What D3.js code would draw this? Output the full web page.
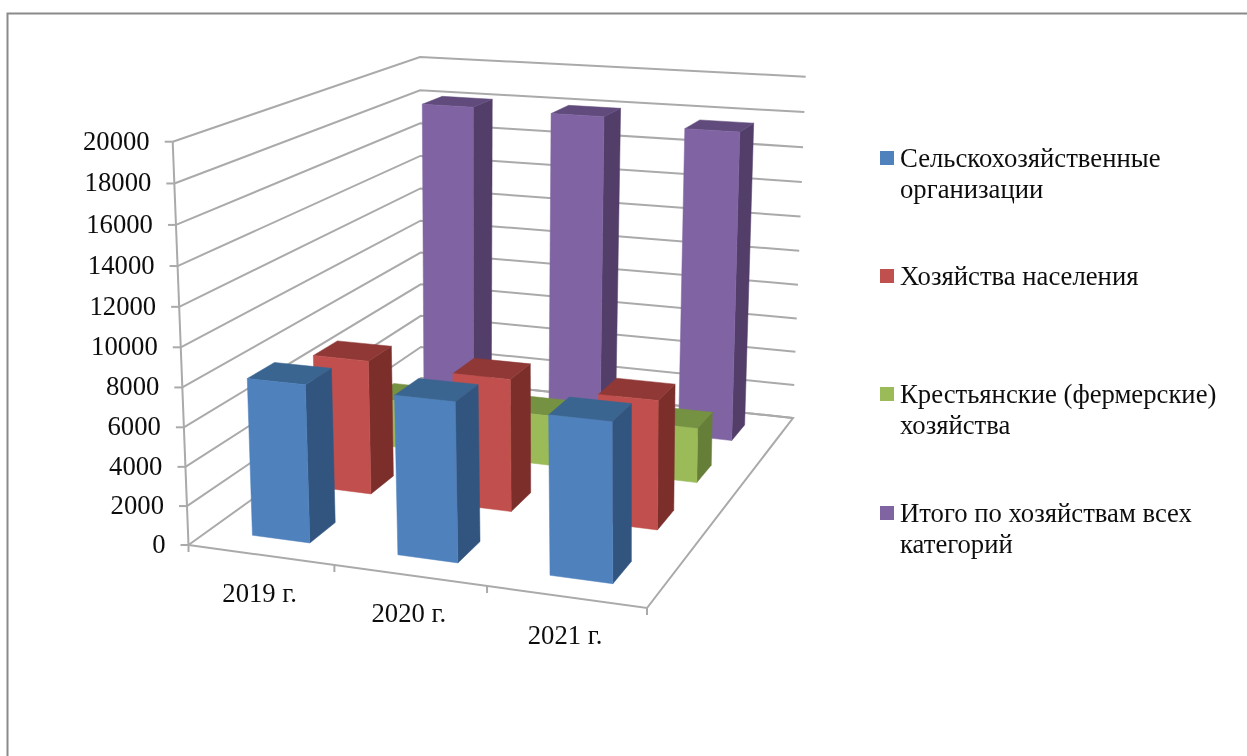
<!DOCTYPE html>
<html><head><meta charset="utf-8">
<script src="https://cdn.jsdelivr.net/npm/d3@7"></script>
<style>html,body{margin:0;padding:0;background:#fff;overflow:hidden}svg{display:block}
text{font-family:"Liberation Serif","Times New Roman",serif;fill:#111}</style>
</head><body><svg id="c" width="1247" height="756"></svg>
<script>
const years = ["2019 г.", "2020 г.", "2021 г."];
const seriesNames = ["Сельскохозяйственные\nорганизации", "Хозяйства населения", "Крестьянские (фермерские)\nхозяйства", "Итого по хозяйствам всех\nкатегорий"];
const agri = [8050, 8000, 7850];
const households = [7200, 7000, 6700];
const farmers = [2700, 2800, 3000];
const total = [18100, 18000, 17600];
const seriesValues = [agri, households, farmers, total];
const yTicks = [0,2000,4000,6000,8000,10000,12000,14000,16000,18000,20000];
const palette = [
 {front:"#4F81BD", side:"#315580", top:"#3A6591"},
 {front:"#C0504D", side:"#7B2E2C", top:"#8F3836"},
 {front:"#9BBB59", side:"#667F37", top:"#759142"},
 {front:"#8064A2", side:"#523E69", top:"#614C7C"}];

// projected frame of the 3D box
const floorQuad = [[188.5,545],[647,608],[793,418],[421,378]]; // front-left, front-right, back-right, back-left
const topQuad   = [[172.7,141.7],[646,173],[805.7,76.7],[420,57]];
function quadMap(q){ // unit square -> quad
  const [[x0,y0],[x1,y1],[x2,y2],[x3,y3]] = q;
  const dx1=x1-x2, dx2=x3-x2, sx=x0-x1+x2-x3, dy1=y1-y2, dy2=y3-y2, sy=y0-y1+y2-y3;
  const den=dx1*dy2-dx2*dy1;
  const g=(sx*dy2-dx2*sy)/den, h=(dx1*sy-sx*dy1)/den;
  const a=x1-x0+g*x1, b=x3-x0+h*x3, c=x0, d=y1-y0+g*y1, e=y3-y0+h*y3, f=y0;
  return (u,v)=>{const w=g*u+h*v+1; return [(a*u+b*v+c)/w,(d*u+e*v+f)/w];};
}
const floorMap=quadMap(floorQuad), topMap=quadMap(topQuad);
const yScale=d3.scaleLinear().domain([0,20000]).range([0,1]);
const K=1.04;
function project(u,v,val){
  const h=yScale(val), t=h/(h+K*(1-h));
  const p=floorMap(u,v), q=topMap(u,v);
  return [p[0]+(q[0]-p[0])*t, p[1]+(q[1]-p[1])*t];
}
const xBand=d3.scaleBand().domain(d3.range(years.length)).range([0,1]).paddingInner(.6).paddingOuter(.3);
const zBand=d3.scaleBand().domain(d3.range(seriesNames.length)).range([0,1]).paddingInner(.6).paddingOuter(.3);

const svg=d3.select("#c");
const defs=svg.append("defs");
defs.append("filter").attr("id","soft").attr("filterUnits","userSpaceOnUse").attr("x",0).attr("y",0).attr("width",1247).attr("height",756)
  .append("feGaussianBlur").attr("stdDeviation",0.7);
defs.append("filter").attr("id","softText").attr("filterUnits","userSpaceOnUse").attr("x",0).attr("y",0).attr("width",1247).attr("height",756)
  .append("feGaussianBlur").attr("stdDeviation",0.4);

// outer frame
svg.append("path").attr("d",d3.line()([[7.5,760],[7.5,13.5],[1250,13.5]])).attr("fill","none").attr("stroke","#8a8a8a").attr("stroke-width",2);

const chart=svg.append("g").attr("filter","url(#soft)");
const line=d3.line();
const grid=chart.append("g").attr("fill","none").attr("stroke","#aaaaaa").attr("stroke-width",2);
yTicks.forEach(t=>{
  grid.append("path").attr("d",line([project(0,0,t),project(0,1,t),project(1,1,t)]));
  const p=project(0,0,t);
  grid.append("path").attr("d",line([[p[0]-8,p[1]],p]));
});
grid.append("path").attr("d",line([project(0,0,0),project(0,0,20000)]));
grid.append("path").attr("d",line([project(0,1,0),project(1,1,0),project(1,0,0),project(0,0,0)]));
d3.range(years.length+1).forEach(i=>{
  const p=project(i/years.length,0,0);
  grid.append("path").attr("d",line([p,[p[0],p[1]+7]]));
});

// bars, back to front
const poly=(pts,fill)=>chart.append("path").attr("d",line(pts)+"Z").attr("fill",fill).attr("stroke",fill).attr("stroke-width",.5);
d3.range(seriesNames.length).reverse().forEach(s=>{
  years.forEach((_,i)=>{
    const u0=xBand(i),u1=u0+xBand.bandwidth(),v0=zBand(s),v1=v0+zBand.bandwidth(),val=seriesValues[s][i],c=palette[s];
    poly([project(u1,v0,0),project(u1,v1,0),project(u1,v1,val),project(u1,v0,val)],c.side);
    poly([project(u0,v0,val),project(u1,v0,val),project(u1,v1,val),project(u0,v1,val)],c.top);
    poly([project(u0,v0,0),project(u1,v0,0),project(u1,v0,val),project(u0,v0,val)],c.front);
  });
});

// axis labels
const fs=26.7;
const labels=svg.append("g").attr("filter","url(#softText)");
yTicks.forEach(t=>{
  const p=project(0,0,t);
  labels.append("text").attr("x",p[0]-23).attr("y",p[1]+8).attr("text-anchor","end").attr("font-size",fs).text(t);
});
years.forEach((y,i)=>{
  const p=project((i+.5)/years.length,0,0);
  labels.append("text").attr("x",p[0]-1).attr("y",p[1]+47).attr("text-anchor","middle").attr("font-size",fs).text(y);
});

// legend
const legendY=[151,269,387,506];
seriesNames.forEach((n,i)=>{
  svg.append("rect").attr("x",880).attr("y",legendY[i]).attr("width",14).attr("height",14).attr("fill",palette[i].front);
  n.split("\n").forEach((l,k)=>{
    labels.append("text").attr("x",900).attr("y",legendY[i]+16+k*31).attr("font-size",fs).text(l);
  });
});
</script></body></html>
